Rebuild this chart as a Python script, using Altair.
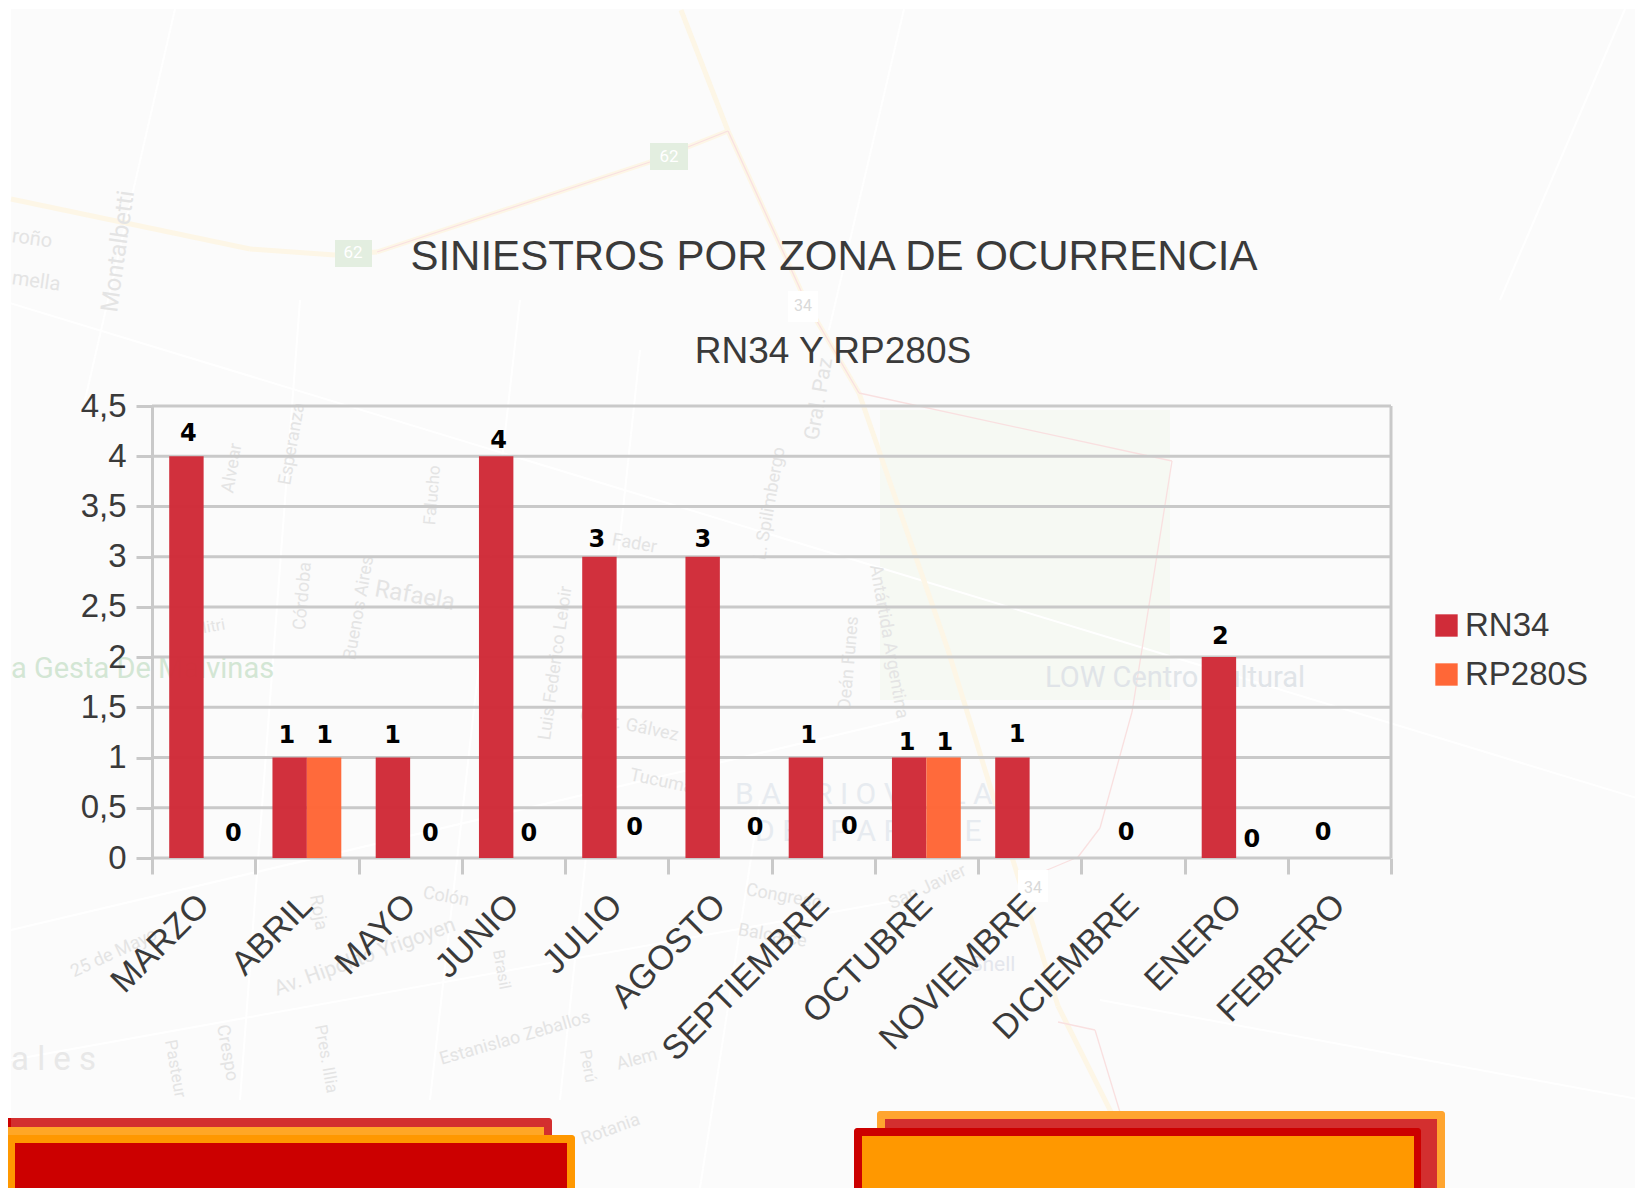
import altair as alt
import pandas as pd

months = ["MARZO","ABRIL","MAYO","JUNIO","JULIO","AGOSTO","SEPTIEMBRE","OCTUBRE","NOVIEMBRE","DICIEMBRE","ENERO","FEBRERO"]
rn34 = [4,1,1,4,3,3,1,1,1,0,2,0]
rp280s = [0,1,0,0,0,0,0,1,0,0,0,0]
y_ticks = [0,.5,1,1.5,2,2.5,3,3.5,4,4.5]

# data labels in the original sit where they were dragged: category units and value units
label_text = ["4","0","1","1","1","0","4","0","3","0","3","0","1","0","1","1","1","0","2","0","0"]
label_u = [.352,.788,1.306,1.671,2.33,2.696,3.356,3.649,4.309,4.675,5.334,5.842,6.359,6.755,7.313,7.678,8.379,9.434,10.347,10.652,11.342]
label_v = [4.22,.24,1.21,1.21,1.21,.24,4.15,.24,3.17,.30,3.17,.30,1.21,.31,1.14,1.14,1.22,.25,2.2,.18,.25]

OX, OY = 152, 406
W, H = 1239, 452
INK = "#3a3a3a"
GRID = "#c9c9c9"
one = pd.DataFrame({"k":[0]})

def rect(x0,y0,x1,y1,color,opacity=1,radius=0):
    return alt.Chart(one).mark_rect(color=color,opacity=opacity,cornerRadius=radius).encode(
        x=alt.value(x0-OX),x2=alt.value(x1-OX),y=alt.value(y0-OY),y2=alt.value(y1-OY))

def road(x0,y0,x1,y1,color,w):
    return alt.Chart(one).mark_rule(color=color,strokeWidth=w).encode(
        x=alt.value(x0-OX),x2=alt.value(x1-OX),y=alt.value(y0-OY),y2=alt.value(y1-OY))

def label(t,x,y,angle=0,size=17,color="#e4e4e4",align="left",font="Roboto"):
    return alt.Chart(one).mark_text(text=t,angle=angle%360,fontSize=size,color=color,align=align,baseline="middle",font=font).encode(
        x=alt.value(x-OX),y=alt.value(y-OY))

decor = [rect(11,9,1643,1188,"#fbfbfb")]
# park
decor.append(rect(880,410,1170,700,"#f6f9f3"))
# white minor streets
for seg in [(175,9,85,400),(904,9,829,330),(1625,9,1500,300),(0,300,1643,800),(700,1188,760,800),(1100,1000,1643,1100),
            (300,300,240,1100),(520,300,430,1100),(640,350,560,1100),(11,930,900,720),(11,1060,900,900)]:
    decor.append(road(*seg,"#ffffff",2))
# main roads, pale
for seg in [(681,10,728,131),(728,131,807,304),(807,304,859,393),(859,393,948,650),(948,650,1058,1006),(1058,1006,1121,1132),
            (11,199,250,249),(250,249,335,255),(335,255,377,252),(377,252,650,162),(650,162,728,131)]:
    decor.append(road(*seg,"#fdf6e6",5))
for seg in [(728,131,807,304),(807,304,859,393),(859,393,1172,461),(1172,461,1132,712),(1132,712,1100,828),(1100,828,1078,857),(1078,857,1040,873),
            (1058,1022,1095,1030),(1095,1030,1126,1132),(377,252,650,162),(650,162,728,131)]:
    decor.append(road(*seg,"#f9e0e0",1.3))
# shields
decor += [rect(650,143,688,170,"#e3eee0"),rect(335,240,372,267,"#e3eee0"),
          rect(788,291,818,322,"#ffffff"),rect(1018,870,1048,902,"#ffffff")]
decor += [label("62",669,157,size=17,color="#ffffff",align="center"),label("62",353,253,size=17,color="#ffffff",align="center"),
          label("34",803,306,size=16,color="#d9d9d9",align="center"),label("34",1033,888,size=16,color="#d9d9d9",align="center")]
# place names
for item in [
    ("roño",12,236,8,20),("mella",12,278,8,20),("Montalbetti",110,312,-82,24),("Alvear",228,493,-80,18),("Esperanza",285,485,-80,18),
    ("Falucho",430,525,-85,17),("Rafaela",375,589,10,24),("Córdoba",300,630,-85,18),("Buenos Aires",350,660,-80,18),("Mitri",193,630,-10,16),
    ("Gral. Paz",812,440,-80,21),("L. Spilimbergo",760,560,-80,18),("Antártida Argentina",875,565,80,18),("Deán Funes",845,710,-85,18),
    ("Luis Federico Leloir",545,740,-82,18),("Gdor. Gálvez",580,715,12,18),("Tucumán",630,775,12,18),("Fader",612,540,10,18),
    ("Colón",423,893,10,18),("25 de Mayo",72,973,-25,18),("Av. Hipólito Yrigoyen",275,990,-20,21),("Estanislao Zeballos",440,1060,-16,18),
    ("Pasteur",170,1040,80,17),("Crespo",222,1025,80,18),("Pres. Illia",320,1025,80,17),("Brasil",498,950,80,16),("Perú",585,1050,80,16),
    ("Roja",315,895,80,18),("Congreso",746,890,10,18),("Balcarce",738,930,10,18),("San Javier",890,905,-25,18),("Rotania",582,1140,-20,18),("Alem",617,1065,-15,18),
]:
    decor.append(label(item[0],item[1],item[2],item[3],item[4]))
decor += [
    label("a Gesta De Malvinas",11,669,size=29,color="#d3e6d4"),
    label("LOW Centro Cultural",1045,678,size=29,color="#e0e4e8"),
    label("B A R R I O   V I L L A",735,795,size=30,color="#e7ebf0"),
    label("D E L   P A R Q U E",755,832,size=30,color="#e7ebf0"),
    label("a l e s",11,1060,size=33,color="#e8e8e8"),
    label("B A R R I O",300,1140,size=28,color="#d8c28a"),
    label("Shell",970,965,size=21,color="#e4e6ec"),
]

df = pd.DataFrame({
    "mes": months*2,
    "serie": ["RN34"]*12 + ["RP280S"]*12,
    "valor": rn34 + rp280s,
})
labels_df = pd.DataFrame({"t":label_text,"u":label_u,"v":label_v})
grid_df = pd.DataFrame({"g":y_ticks})

y_scale = alt.Scale(domain=[0,4.5],nice=False,zero=True)
y_axis = alt.Axis(values=y_ticks,labelExpr="replace(format(datum.value,'.1~f'),'.',',')",title=None,
                  labelFontSize=33,labelFont="Liberation Sans",labelColor=INK,labelPadding=10,tickSize=16,tickWidth=3,tickColor=GRID,
                  domainColor=GRID,domainWidth=3,grid=False,zindex=1)

grid = alt.Chart(grid_df).mark_rule(color=GRID,strokeWidth=3).encode(
    y=alt.Y("g:Q",scale=y_scale,axis=y_axis,title=None))
right_edge = road(OX+W,OY,OX+W,OY+H,GRID,3)

bars = alt.Chart(df).mark_bar(opacity=.98).encode(
    x=alt.X("mes:N",sort=months,title=None,
            scale=alt.Scale(paddingInner=0,paddingOuter=0),
            axis=alt.Axis(labelAngle=-45,labelAlign="right",labelBaseline="middle",labelFontSize=34,labelFont="Liberation Sans",labelColor=INK,
                          labelPadding=26,labelLimit=400,tickBand="extent",tickSize=16,tickWidth=3,tickColor=GRID,domain=False,grid=False,labelOverlap=False,zindex=1)),
    xOffset=alt.XOffset("serie:N",scale=alt.Scale(paddingInner=0,paddingOuter=.5),sort=["RN34","RP280S"]),
    y=alt.Y("valor:Q",title=None,scale=y_scale,axis=y_axis),
    color=alt.Color("serie:N",scale=alt.Scale(domain=["RN34","RP280S"],range=["#d02c39","#ff6737"]),
                    legend=alt.Legend(title=None,orient="none",legendX=1278,legendY=203,symbolType="square",symbolSize=500,symbolStrokeWidth=0,
                                      labelFontSize=33,labelFont="Liberation Sans",labelColor=INK,labelOffset=2,rowPadding=15,symbolOpacity=1)),
)

texts = alt.Chart(labels_df).mark_text(font="DejaVu Sans",fontWeight="bold",fontSize=24,color="#000000",baseline="middle",align="center").encode(
    x=alt.X("u:Q",scale=alt.Scale(domain=[0,12],nice=False,zero=True),axis=None),
    y=alt.Y("v:Q",scale=y_scale,axis=y_axis,title=None),
    text="t:N",
)

titles = [
    label("SINIESTROS POR ZONA DE OCURRENCIA",834,257,size=42,color=INK,align="center",font="Liberation Sans"),
    label("RN34 Y RP280S",833,352,size=37,color=INK,align="center",font="Liberation Sans"),
]

cards = [
    rect(0,1118,552,1200,"#d32f2f",radius=3),
    rect(0,1127,544,1200,"#ffa726"),
    rect(0,1118,11,1127,"#cc0000"),
    rect(0,1135,575,1200,"#ff9800",radius=3),
    rect(15,1143,567,1200,"#cc0000"),
    rect(877,1111,1445,1200,"#ffa52f",radius=3),
    rect(885,1119,1437,1200,"#d32f2f"),
    rect(854,1128,1421,1200,"#cc0000",radius=3),
    rect(862,1136,1414,1200,"#ff9800"),
]

chart = alt.layer(*decor, grid, right_edge, bars, texts, *titles, *cards).resolve_scale(x="independent").properties(
    width=W,height=H,
    padding={"left":144,"top":398,"right":244,"bottom":330},
    autosize=alt.AutoSizeParams(type="none"),
    background="#ffffff",
).configure_view(stroke=None)

chart.save("out.html", embed_options={"renderer": "svg", "actions": False})
